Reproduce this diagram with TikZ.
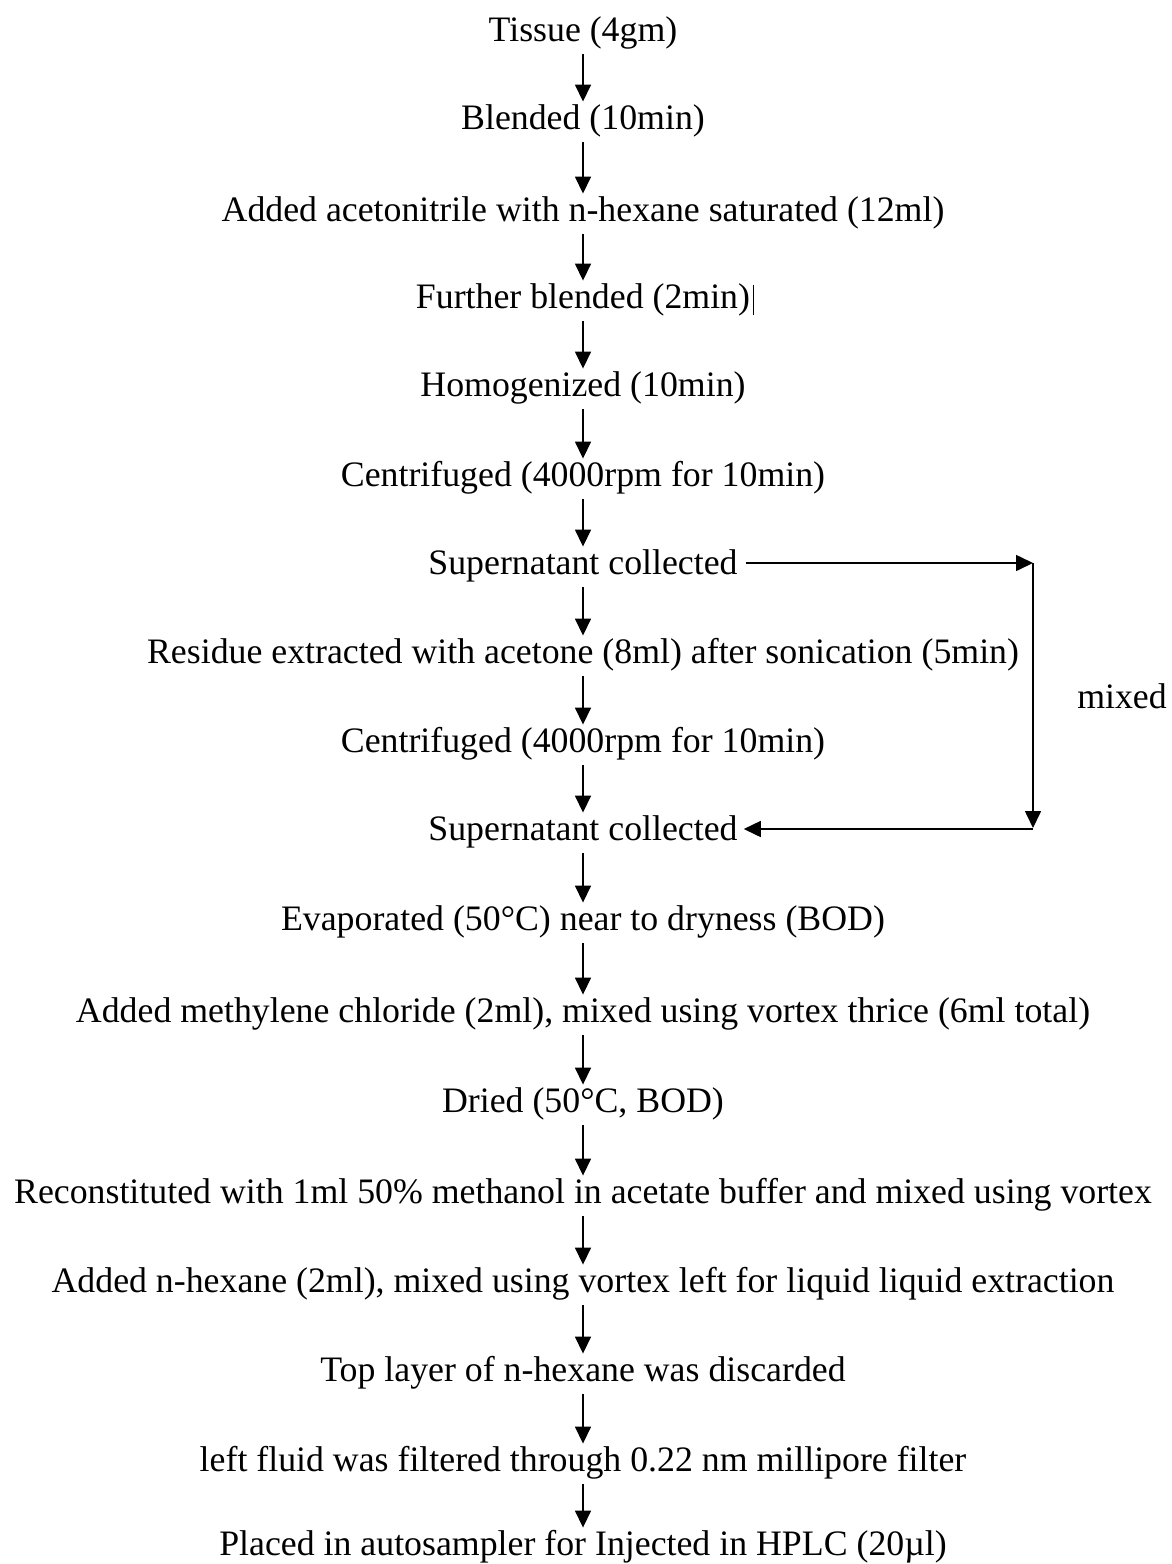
\documentclass[tikz,border=0pt]{standalone}
\usepackage{fontspec}
\setmainfont{Liberation Serif}
\usetikzlibrary{arrows.meta}
\begin{document}
\begin{tikzpicture}[x=1pt,y=-1pt,
  stepnode/.style={inner xsep=4pt,inner ysep=0pt,text height=24.5pt,text depth=8pt,font=\fontsize{35.8}{40}\selectfont},
  arr/.style={line width=1.6pt,-{Triangle[width=16pt,length=17pt]}},
  flow/.style={arr,shorten >=3pt,shorten <=5pt}]
\useasboundingbox (0,0) rectangle (1171,1564);
\node[stepnode] (n1) at (583,33) {Tissue (4gm)};
\node[stepnode] (n2) at (583,121) {Blended (10min)};
\node[stepnode] (n3) at (583,213) {Added acetonitrile with n-hexane saturated (12ml)};
\node[stepnode] (n4) at (583,300) {Further blended (2min)};
\node[stepnode] (n5) at (583,388) {Homogenized (10min)};
\node[stepnode] (n6) at (583,478) {Centrifuged (4000rpm for 10min)};
\node[stepnode] (n7) at (583,566) {Supernatant collected};
\node[stepnode] (n8) at (583,655) {Residue extracted with acetone (8ml) after sonication (5min)};
\node[stepnode] (n9) at (583,744) {Centrifuged (4000rpm for 10min)};
\node[stepnode] (n10) at (583,832) {Supernatant collected};
\node[stepnode] (n11) at (583,922) {Evaporated (50°C) near to dryness (BOD)};
\node[stepnode] (n12) at (583,1014) {Added methylene chloride (2ml), mixed using vortex thrice (6ml total)};
\node[stepnode] (n13) at (583,1104) {Dried (50°C, BOD)};
\node[stepnode] (n14) at (583,1195) {Reconstituted with 1ml 50\% methanol in acetate buffer and mixed using vortex};
\node[stepnode] (n15) at (583,1284) {Added n-hexane (2ml), mixed using vortex left for liquid liquid extraction};
\node[stepnode] (n16) at (583,1373) {Top layer of n-hexane was discarded};
\node[stepnode] (n17) at (583,1463) {left fluid was filtered through 0.22 nm millipore filter};
\node[stepnode] (n18) at (583,1547) {Placed in autosampler for Injected in HPLC (20µl)};
\node[stepnode] (mx) at (1122,700) {mixed};
\foreach \a/\b in {n1/n2,n2/n3,n3/n4,n4/n5,n5/n6,n6/n7,n7/n8,n8/n9,n9/n10,n10/n11,n11/n12,n12/n13,n13/n14,n14/n15,n15/n16,n16/n17,n17/n18}
  \draw[flow] (\a.south) -- (\b.south |- \b.north);
\draw[line width=1.2pt] ([xshift=-1pt,yshift=-1pt]n4.north east) -- ([xshift=-1pt,yshift=1pt]n4.south east);
\coordinate (tr) at (1033,563);
\coordinate (br) at (1033,829);
\draw[arr,shorten <=4pt] (n7.east |- tr) -- (tr);
\draw[arr,shorten >=1pt] (tr) -- (br);
\draw[arr,shorten >=2pt] (br) -- (n10.east |- br);
\end{tikzpicture}
\end{document}
